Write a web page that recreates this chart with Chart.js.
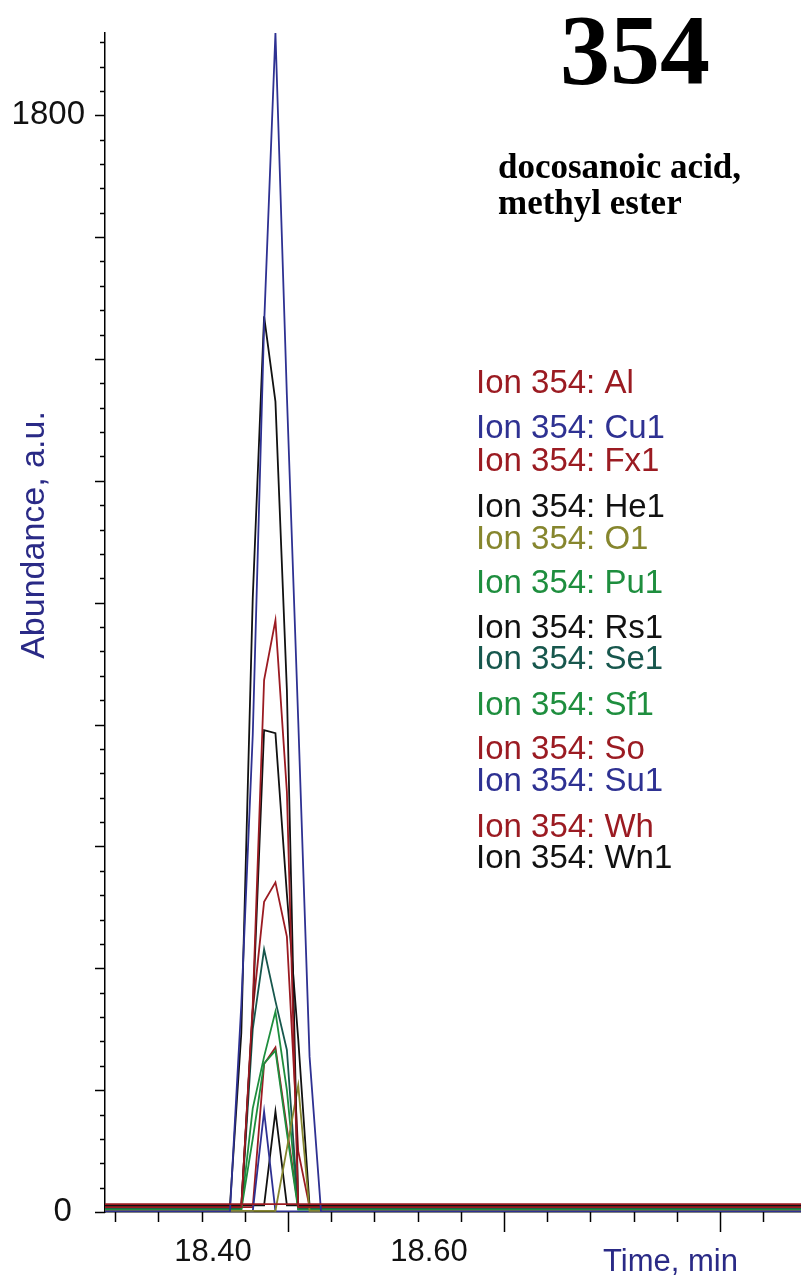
<!DOCTYPE html>
<html lang="en">
<head>
  <meta charset="UTF-8">
  <title>Ion 354 - docosanoic acid, methyl ester</title>
  <script src="https://cdn.jsdelivr.net/npm/chart.js"></script>
  <style>
    body { margin: 0; background: #fff; }
    canvas { display: block; }
  </style>
</head>
<body>
  <canvas id="chromChart" width="801" height="1278"></canvas>

  <script>
    // retention time grid (min) shared by every trace
    const times = [18.30, 18.4157, 18.4262, 18.4368, 18.4473, 18.4578, 18.4684, 18.4789, 18.4894, 18.5000, 18.95];

    // abundance of ion 354 per sample
    const al  = [13, 13, 13, 13, 13, 13, 13, 13, 13, 13, 13];
    const cu1 = [1, 1, 340, 783, 1456, 1935, 1340, 807, 255, 1, 1];
    const fx1 = [8, 8, 8, 340, 873, 971, 690, 8, 8, 8, 8];
    const he1 = [10, 10, 294, 1008, 1470, 1330, 857, 10, 10, 10, 10];
    const o1  = [2, 2, 2, 2, 2, 2, 104, 208, 2, 2, 2];
    const pu1 = [4, 4, 4, 120, 244, 265, 130, 4, 4, 4, 4];
    const rs1 = [10, 10, 10, 330, 791, 786, 522, 284, 10, 10, 10];
    const se1 = [5, 5, 5, 300, 431, 346, 266, 5, 5, 5, 5];
    const sf1 = [5, 5, 5, 170, 255, 329, 200, 5, 5, 5, 5];
    const so  = [8, 8, 8, 331, 509, 541, 452, 100, 8, 8, 8];
    const su1 = [1, 1, 1, 1, 165, 1, 1, 1, 1, 1, 1];
    const wh  = [8, 8, 8, 8, 243, 270, 138, 8, 8, 8, 8];
    const wn1 = [11, 11, 11, 11, 11, 165, 11, 11, 11, 11, 11];

    const sampleNames = ['Al', 'Cu1', 'Fx1', 'He1', 'O1', 'Pu1', 'Rs1', 'Se1', 'Sf1', 'So', 'Su1', 'Wh', 'Wn1'];
    const sampleValues = [al, cu1, fx1, he1, o1, pu1, rs1, se1, sf1, so, su1, wh, wn1];

    const xLabels = [18.40, 18.60];
    const yLabels = [0, 1800];

    // colours
    const RED = '#9b1b22', BLUE = '#2e3192', BLACK = '#111111',
          OLIVE = '#86862e', GREEN = '#1e8e3e', TEAL = '#17574d', NAVY = '#2a2a86';
    const sampleColors = [RED, BLUE, RED, BLACK, OLIVE, GREEN, BLACK, TEAL, GREEN, RED, BLUE, RED, BLACK];

    // vertical position of each legend row (px)
    const legendRowY = [384, 429, 462, 508, 540, 584, 629, 660, 706, 750, 782, 828, 859];

    const datasets = sampleNames.map((name, i) => ({
      label: 'Ion 354: ' + name,
      data: times.map((t, j) => ({ x: t, y: sampleValues[i][j] })),
      borderColor: sampleColors[i],
      borderWidth: 1.8,
      pointRadius: 0,
      tension: 0,
      fill: false
    }));

    // tick marks, legend and texts
    const annotate = {
      id: 'annotate',
      afterDraw(chart) {
        const ctx = chart.ctx;
        const xs = chart.scales.x, ys = chart.scales.y;
        ctx.save();
        ctx.strokeStyle = '#000';
        ctx.lineWidth = 1.5;

        // y ticks: minor every 40, major every 200
        for (let v = 0; v <= ys.max; v += 40) {
          const py = Math.round(ys.getPixelForValue(v)) + 0.5;
          const len = v % 200 === 0 ? 10 : 5;
          ctx.beginPath();
          ctx.moveTo(ys.right - len, py);
          ctx.lineTo(ys.right, py);
          ctx.stroke();
        }

        // x ticks: every 0.04 min, long every 0.2 min
        for (let k = 0; ; k++) {
          const t = 18.3094 + 0.04 * k;
          if (t > xs.max) break;
          const px = Math.round(xs.getPixelForValue(t)) + 0.5;
          const len = k % 5 === 4 ? 20 : 10;
          ctx.beginPath();
          ctx.moveTo(px, xs.top);
          ctx.lineTo(px, xs.top + len);
          ctx.stroke();
        }

        // compound title
        ctx.fillStyle = '#000';
        ctx.textAlign = 'center';
        ctx.textBaseline = 'alphabetic';
        ctx.font = 'bold 100px "Liberation Serif", "Times New Roman", serif';
        ctx.fillText('354', 635, 83);
        ctx.textAlign = 'left';
        ctx.font = 'bold 35px "Liberation Serif", "Times New Roman", serif';
        ctx.fillText('docosanoic acid,', 498, 178);
        ctx.fillText('methyl ester', 498, 214);

        // legend
        ctx.font = '33px "Liberation Sans", Arial, sans-serif';
        ctx.textBaseline = 'middle';
        chart.data.datasets.forEach((ds, i) => {
          ctx.fillStyle = ds.borderColor;
          ctx.fillText(ds.label, 476, legendRowY[i]);
        });

        // axis titles
        ctx.fillStyle = NAVY;
        ctx.font = '31px "Liberation Sans", Arial, sans-serif';
        ctx.textBaseline = 'alphabetic';
        ctx.fillText('Time, min', 603, 1271);

        ctx.translate(35, 535);
        ctx.rotate(-Math.PI / 2);
        ctx.textAlign = 'center';
        ctx.textBaseline = 'middle';
        ctx.font = '34px "Liberation Sans", Arial, sans-serif';
        ctx.fillText('Abundance, a.u.', 0, 0);
        ctx.restore();
      }
    };

    new Chart(document.getElementById('chromChart').getContext('2d'), {
      type: 'line',
      data: { datasets: datasets },
      plugins: [annotate],
      options: {
        responsive: false,
        animation: false,
        layout: { padding: { top: 33, right: 0, left: 0, bottom: 0 } },
        plugins: {
          legend: { display: false },
          tooltip: { enabled: false }
        },
        scales: {
          x: {
            type: 'linear',
            position: 'bottom',
            min: 18.30,
            max: 18.9444,
            grid: { display: false, drawTicks: true, tickLength: 22 },
            border: { display: true, color: '#000', width: 1.5 },
            afterBuildTicks: (scale) => { scale.ticks = xLabels.map(v => ({ value: v })); },
            afterFit: (scale) => { scale.height = 66; },
            ticks: {
              autoSkip: false,
              maxRotation: 0,
              padding: 0,
              color: '#111',
              font: { family: '"Liberation Sans", Arial, sans-serif', size: 31 },
              callback: (v) => Number(v).toFixed(2)
            }
          },
          y: {
            min: 0,
            max: 1935,
            grid: { display: false, drawTicks: true, tickLength: 20 },
            border: { display: true, color: '#000', width: 1.5 },
            afterBuildTicks: (scale) => { scale.ticks = yLabels.map(v => ({ value: v })); },
            afterFit: (scale) => { scale.width = 105; },
            ticks: {
              padding: 0,
              color: '#111',
              font: { family: '"Liberation Sans", Arial, sans-serif', size: 33 },
              callback: (v) => v === 0 ? '0\u2009\u2009' : String(v)
            }
          }
        }
      }
    });
  </script>
</body>
</html>
